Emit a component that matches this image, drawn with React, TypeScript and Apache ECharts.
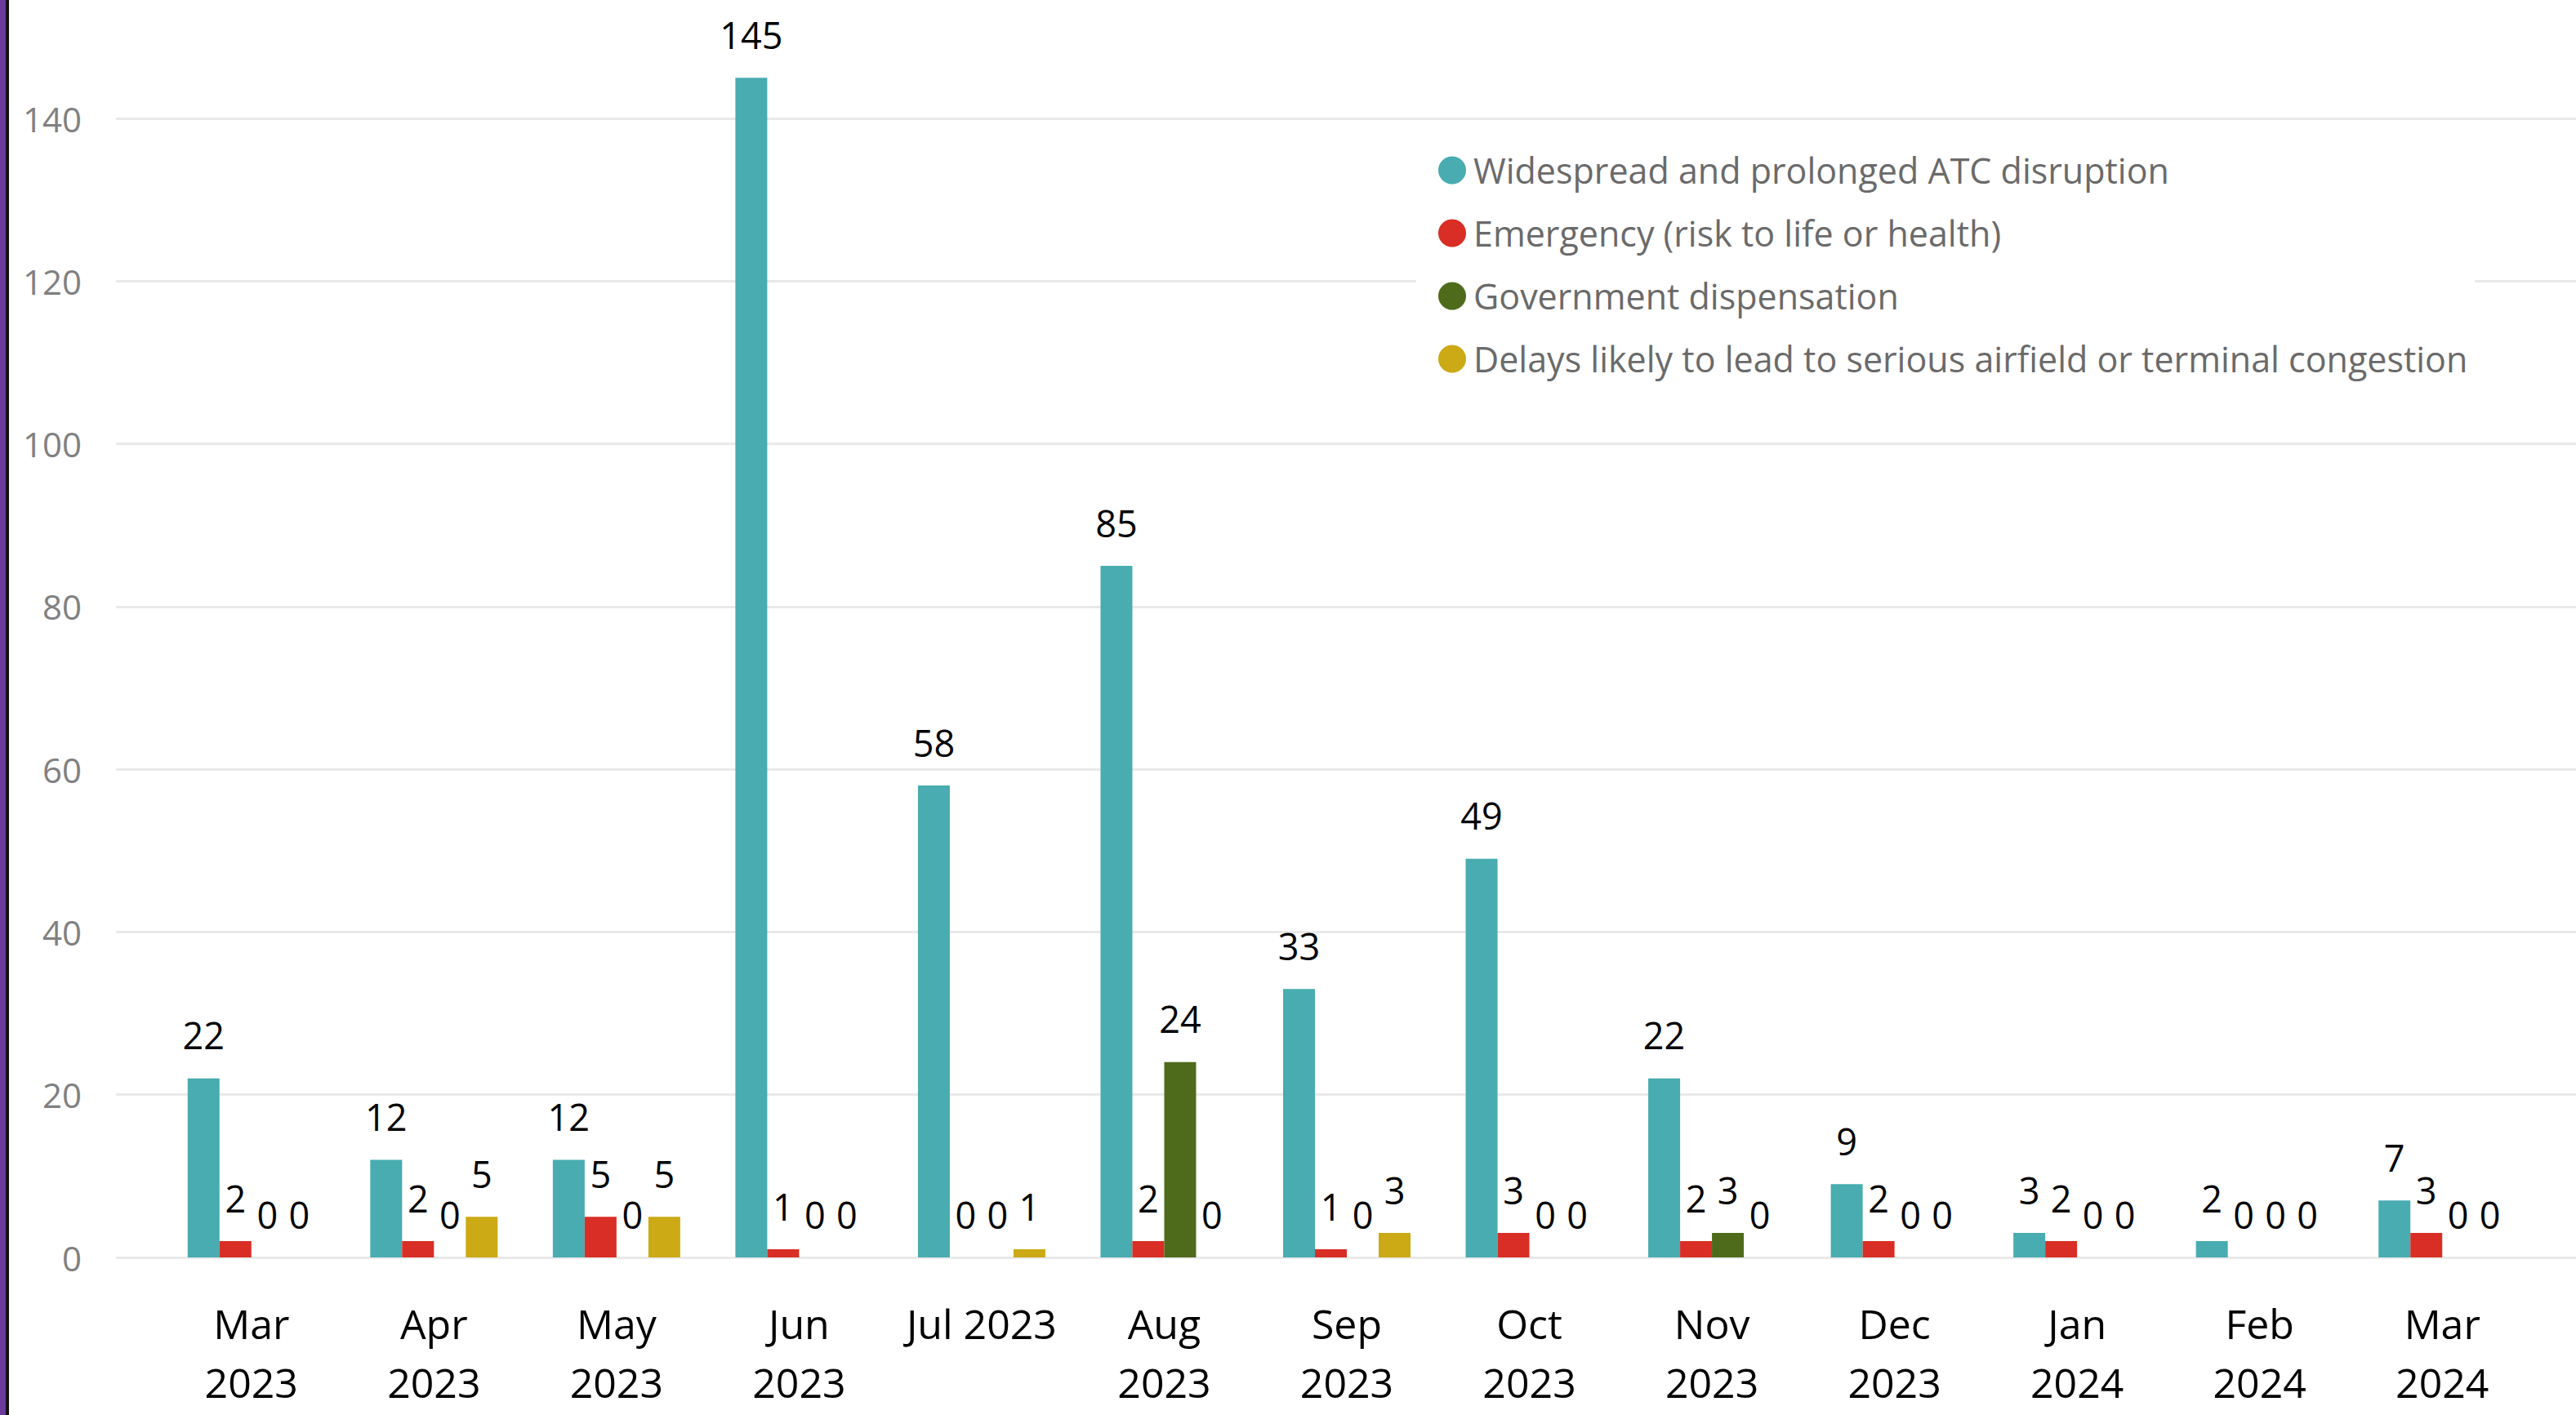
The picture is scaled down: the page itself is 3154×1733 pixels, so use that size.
import React, { useEffect, useRef } from "react";
import * as echarts from "echarts";

const categories = [
  "Mar\n2023", "Apr\n2023", "May\n2023", "Jun\n2023", "Jul 2023", "Aug\n2023",
  "Sep\n2023", "Oct\n2023", "Nov\n2023", "Dec\n2023", "Jan\n2024", "Feb\n2024", "Mar\n2024",
];
const seriesNames = [
  "Widespread and prolonged ATC disruption",
  "Emergency (risk to life or health)",
  "Government dispensation",
  "Delays likely to lead to serious airfield or terminal congestion",
];
const atcDisruption = [22, 12, 12, 145, 58, 85, 33, 49, 22, 9, 3, 2, 7];
const emergency = [2, 2, 5, 1, 0, 2, 1, 3, 2, 2, 2, 0, 3];
const governmentDispensation = [0, 0, 0, 0, 0, 24, 0, 0, 3, 0, 0, 0, 0];
const delaysCongestion = [0, 5, 5, 0, 1, 0, 3, 0, 0, 0, 0, 0, 0];
const colors = ["#48ACB0", "#D92E25", "#4E6B1B", "#CBAA15"];

const FONT = "'Segoe UI', 'Open Sans', sans-serif";

export default function App() {
  const ref = useRef<HTMLDivElement>(null);
  useEffect(() => {
    if (!ref.current) return;
    const chart = echarts.init(ref.current, null, { renderer: "svg" });
    const values = [atcDisruption, emergency, governmentDispensation, delaysCongestion];
    const option: any = {
      animation: false,
      backgroundColor: "#ffffff",
      textStyle: { fontFamily: FONT },
      grid: [
        { left: 142, right: 0, top: 145, bottom: 193 },
        { left: 196, right: 52, top: 145, bottom: 193 },
      ],
      xAxis: [
        { gridIndex: 0, type: "value", show: false, min: 0, max: 1 },
        {
          gridIndex: 1,
          type: "category",
          data: categories,
          axisLine: { show: false },
          axisTick: { show: false },
          axisLabel: {
            color: "#000000",
            fontSize: 50,
            lineHeight: 72,
            margin: 45,
            fontFamily: FONT,
            interval: 0,
          },
        },
      ],
      yAxis: [
        {
          gridIndex: 0,
          type: "value",
          min: 0,
          max: 140,
          interval: 20,
          axisLine: { show: false },
          axisTick: { show: false },
          axisLabel: { color: "#808080", fontSize: 42, margin: 42, fontFamily: FONT },
          splitLine: { show: true, lineStyle: { color: "#E9E9E9", width: 3 } },
        },
        { gridIndex: 1, type: "value", min: 0, max: 140, show: false, splitLine: { show: false } },
      ],
      legend: {
        orient: "vertical",
        left: 1734,
        top: 167,
        padding: [20, 9, 20, 27],
        backgroundColor: "#ffffff",
        icon: "circle",
        itemWidth: 34,
        itemHeight: 34,
        itemGap: 34,
        textStyle: {
          color: "#6A6A6A",
          fontSize: 43,
          lineHeight: 40,
          fontFamily: FONT,
          padding: [0, 0, 0, 4],
        },
        data: seriesNames,
      },
      graphic: [
        { type: "rect", left: 0, top: 0, shape: { width: 7, height: 1733 }, style: { fill: "#6B3A9A" } },
        { type: "rect", left: 7, top: 0, shape: { width: 4, height: 1733 }, style: { fill: "#111111" } },
      ],
      series: seriesNames.map((name, i) => ({
        name,
        type: "bar",
        xAxisIndex: 1,
        yAxisIndex: 1,
        data: values[i],
        barWidth: 39,
        barGap: "0%",
        clip: false,
        itemStyle: { color: colors[i] },
        label: {
          show: true,
          position: "top",
          distance: 28,
          color: "#000000",
          fontSize: 45,
          lineHeight: 50,
          fontFamily: FONT,
        },
      })),
    };
    chart.setOption(option);
    return () => chart.dispose();
  }, []);
  return (
    <div
      ref={ref}
      style={{ position: "absolute", left: 0, top: 0, width: 3154, height: 1733 }}
    />
  );
}
